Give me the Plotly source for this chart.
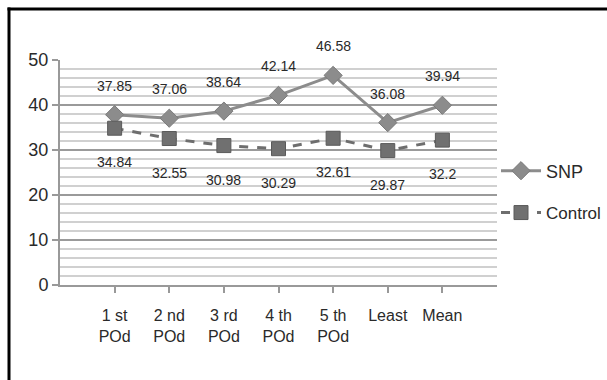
import plotly.graph_objects as go

categories = ["1 st<br>POd", "2 nd<br>POd", "3 rd<br>POd", "4 th<br>POd", "5 th<br>POd", "Least", "Mean"]
snp = [37.85, 37.06, 38.64, 42.14, 46.58, 36.08, 39.94]
control = [34.84, 32.55, 30.98, 30.29, 32.61, 29.87, 32.2]
snp_labels = ["37.85", "37.06", "38.64", "42.14", "46.58", "36.08", "39.94"]
control_labels = ["34.84", "32.55", "30.98", "30.29", "32.61", "29.87", "32.2"]

FONT = "Liberation Sans, Arial, sans-serif"
TXT = "#2a2a2a"

fig = go.Figure()
fig.add_trace(go.Scatter(
    x=categories, y=snp, name="SNP", mode="lines+markers", showlegend=True,
    line=dict(color="#8c8c8c", width=3),
    marker=dict(symbol="diamond", size=14, color="#8c8c8c", line=dict(color="#7a7a7a", width=1)),
    legend="legend",
))
fig.add_trace(go.Scatter(
    x=categories, y=control, name="Control", mode="lines+markers", showlegend=True,
    line=dict(color="#6e6e6e", width=3, dash="dash"),
    marker=dict(symbol="square", size=14, color="#707070", line=dict(color="#5a5a5a", width=1)),
    legend="legend2",
))

annotations = []
for c, v, t in zip(categories, snp, snp_labels):
    annotations.append(dict(x=c, y=v, text=t, showarrow=False, yshift=29,
                            font=dict(family=FONT, size=14, color=TXT)))
for c, v, t in zip(categories, control, control_labels):
    annotations.append(dict(x=c, y=v, text=t, showarrow=False, yshift=-34,
                            font=dict(family=FONT, size=14, color=TXT)))

L, R, T, B = 60, 110, 60, 95
W, H = 607, 380
pw, ph = W - L - R, H - T - B
def px(x):
    return (x - L) / pw
def py(y):
    return (H - B - y) / ph

shapes = [
    dict(type="line", xref="paper", yref="paper", x0=px(7.5), x1=px(607), y0=py(9), y1=py(9),
         line=dict(color="black", width=3)),
    dict(type="line", xref="paper", yref="paper", x0=px(9), x1=px(9), y0=py(7.5), y1=py(380),
         line=dict(color="black", width=3)),
]

fig.update_layout(
    width=W, height=H,
    margin=dict(l=L, r=R, t=T, b=B, autoexpand=False),
    paper_bgcolor="white", plot_bgcolor="white",
    font=dict(family=FONT, color=TXT),
    annotations=annotations,
    shapes=shapes,
    legend=dict(x=px(496), xanchor="left", y=py(171), yanchor="middle", itemwidth=40,
                font=dict(family=FONT, size=18, color=TXT), bgcolor="rgba(0,0,0,0)"),
    legend2=dict(x=px(496), xanchor="left", y=py(213), yanchor="middle", itemwidth=40,
                 font=dict(family=FONT, size=17, color=TXT), bgcolor="rgba(0,0,0,0)"),
)
fig.update_xaxes(
    type="category", range=[-1, 7],
    showgrid=False, showline=True, linecolor="#999999", linewidth=2,
    ticks="outside", ticklen=6, tickcolor="#999999", tickwidth=2,
    tickfont=dict(family=FONT, size=16, color=TXT), ticklabelstandoff=9,
)
fig.update_yaxes(
    range=[0, 50], tickvals=[0, 10, 20, 30, 40, 50],
    showgrid=True, gridcolor="#9a9a9a", gridwidth=2,
    minor=dict(dtick=2, showgrid=True, gridcolor="#d0d0d0", gridwidth=2),
    showline=True, linecolor="#999999", linewidth=2,
    ticks="outside", ticklen=6, tickcolor="#999999", tickwidth=2,
    tickfont=dict(family=FONT, size=18, color=TXT),
    zeroline=False,
)

fig.write_html("out.html", config={"displayModeBar": False},
               post_script="document.body.style.margin='0';document.body.style.overflow='hidden';")
